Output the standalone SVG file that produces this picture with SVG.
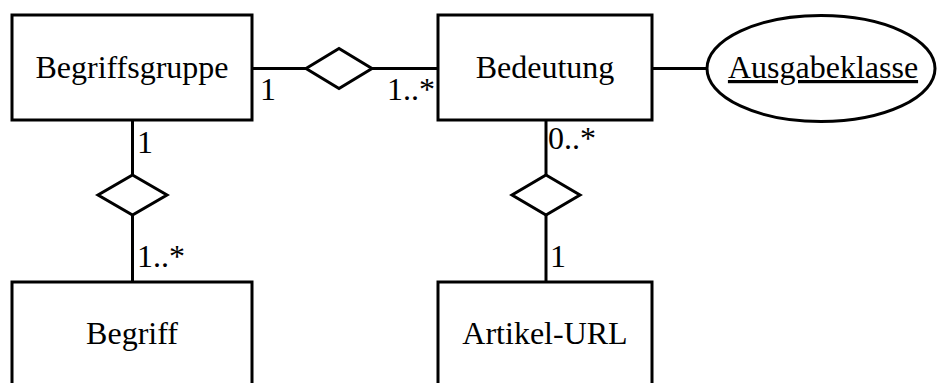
<svg xmlns="http://www.w3.org/2000/svg" width="938" height="383" viewBox="0 0 938 383">
<style>
.box{fill:#fff;stroke:#000;stroke-width:3}
.ln{fill:none;stroke:#000;stroke-width:3}
text{font-family:'Liberation Serif',serif;font-size:32px;fill:#000}
.c{text-anchor:middle}
</style>
<rect width="938" height="383" fill="#fff"/>
<g id="connectors">
<line class="ln" x1="252" y1="68.5" x2="306" y2="68.5"/>
<polygon class="ln" points="306,68.5 339,48.5 372,68.5 339,88.5"/>
<line class="ln" x1="372" y1="68.5" x2="438" y2="68.5"/>
<line class="ln" x1="652" y1="68.5" x2="707" y2="68.5"/>
<line class="ln" x1="132.5" y1="120" x2="132.5" y2="175"/>
<polygon class="ln" points="132.5,175 167,195 132.5,215 98,195"/>
<line class="ln" x1="132.5" y1="215" x2="132.5" y2="282"/>
<line class="ln" x1="546" y1="120" x2="546" y2="175"/>
<polygon class="ln" points="546,175 580,195 546,215 512,195"/>
<line class="ln" x1="546" y1="215" x2="546" y2="282"/>
<text font-family="Liberation Serif, serif" x="260" y="100">1</text>
<text font-family="Liberation Serif, serif" x="387" y="100">1..*</text>
<text font-family="Liberation Serif, serif" x="137" y="153">1</text>
<text font-family="Liberation Serif, serif" x="137" y="267">1..*</text>
<text font-family="Liberation Serif, serif" x="548" y="149">0..*</text>
<text font-family="Liberation Serif, serif" x="550" y="267">1</text>
</g>
<g id="begriffsgruppe">
<rect class="box" x="12" y="15" width="240" height="105"/>
<text class="c" font-family="Liberation Serif, serif" x="132" y="78">Begriffsgruppe</text>
</g>
<g id="bedeutung">
<rect class="box" x="438" y="15" width="214" height="105"/>
<text class="c" font-family="Liberation Serif, serif" x="545" y="78">Bedeutung</text>
</g>
<g id="ausgabeklasse">
<ellipse class="box" cx="821" cy="68.5" rx="114" ry="53"/>
<text class="c" font-family="Liberation Serif, serif" x="823" y="78" text-decoration="underline">Ausgabeklasse</text>
</g>
<g id="begriff">
<rect class="box" x="12" y="282" width="240" height="120"/>
<text class="c" font-family="Liberation Serif, serif" x="132" y="344">Begriff</text>
</g>
<g id="artikel-url">
<rect class="box" x="438" y="282" width="214" height="120"/>
<text class="c" font-family="Liberation Serif, serif" x="545" y="344">Artikel-URL</text>
</g>
</svg>
